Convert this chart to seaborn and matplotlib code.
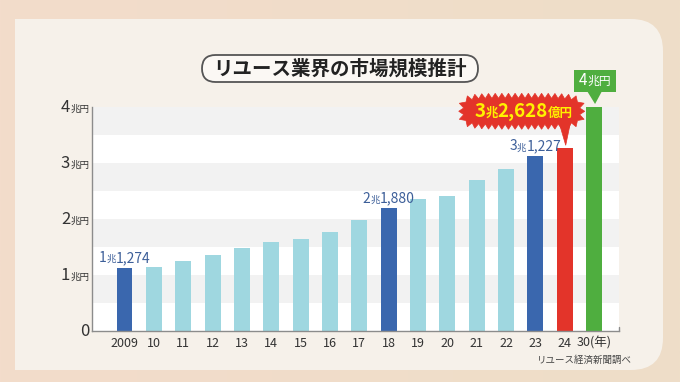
import numpy as np
import pandas as pd
import seaborn as sns
import matplotlib.pyplot as plt
from matplotlib.patches import FancyBboxPatch, Rectangle, Polygon
from matplotlib.offsetbox import TextArea, HPacker, AnnotationBbox
from matplotlib.colors import LinearSegmentedColormap

# ---------------- data ----------------
years = ["2009", "10", "11", "12", "13", "14", "15", "16", "17", "18",
         "19", "20", "21", "22", "23", "24", "30(年)"]
values = [1.1274, 1.14, 1.255, 1.357, 1.49, 1.595, 1.65, 1.77, 1.99, 2.188,
          2.357, 2.41, 2.70, 2.89, 3.1227, 3.2628, 4.0]
bar_colors = ["#3A67AE", "#9FD7E0", "#9FD7E0", "#9FD7E0", "#9FD7E0", "#9FD7E0",
              "#9FD7E0", "#9FD7E0", "#9FD7E0", "#3A67AE", "#9FD7E0", "#9FD7E0",
              "#9FD7E0", "#9FD7E0", "#3A67AE", "#E3342A", "#4FAE3F"]
value_labels = {0: ("1", "1,274"), 9: ("2", "1,880"), 14: ("3", "1,227")}
callout_24 = ("3", "2,628")
callout_30 = "4"
y_ticks = [0, 1, 2, 3, 4]
title = "リユース業界の市場規模推計"
source = "リユース経済新聞調べ"

W, H = 680, 382
FONT = ["Noto Sans CJK JP", "DejaVu Sans"]

sns.set_style("white")
plt.rcParams["font.family"] = FONT

fig = plt.figure(figsize=(W / 100, H / 100), dpi=100)

# ---------------- background ----------------
bg = fig.add_axes([0, 0, 1, 1], zorder=0)
grad = np.linspace(0, 1, 256).reshape(1, -1)
cmap = LinearSegmentedColormap.from_list("g", ["#F3DCCB", "#EEDEC8"])
bg.imshow(grad, extent=(0, W, 0, H), aspect="auto", cmap=cmap)
panel = "#F6F1EA"
bg.add_patch(FancyBboxPatch((15, 12), 648, 351,
                            boxstyle="round,pad=0,rounding_size=32",
                            fc=panel, ec="none"))
bg.add_patch(Rectangle((15, 12), 60, 351, fc=panel, ec="none"))
bg.set_xlim(0, W)
bg.set_ylim(0, H)
bg.axis("off")

# ---------------- main chart ----------------
ax = fig.add_axes([92 / W, 51 / H, 527 / W, 224 / H], zorder=1)
df = pd.DataFrame({"year": years, "value": values})
sns.barplot(data=df, x="year", y="value", hue="year", order=years,
            hue_order=years, palette=dict(zip(years, bar_colors)),
            width=0.54, saturation=1, legend=False, ax=ax, zorder=2,
            edgecolor="none", linewidth=0)
ax.set_xlim(-1.11, 16.85)
ax.set_ylim(0, 4)
ax.set_facecolor("white")
for lo in [0.5, 1.5, 2.5, 3.5]:
    ax.axhspan(lo, lo + 0.5, color="#F2F2F2", lw=0, zorder=0)
for s in ["top", "right"]:
    ax.spines[s].set_visible(False)
for s in ["left", "bottom"]:
    ax.spines[s].set_color("#8C8C8C")
    ax.spines[s].set_linewidth(1)
ax.set_yticks(y_ticks)
ax.set_yticklabels([])
ax.tick_params(axis="y", direction="in", length=4, color="#999999", width=0.8)
ax.tick_params(axis="x", length=0, pad=4, labelsize=9, labelcolor="#333333")
ax.set_xlabel("")
ax.set_ylabel("")
ax.plot([1, 1], [0, 0.02], transform=ax.transAxes, color="#8C8C8C", lw=1,
        clip_on=False)


def mixed(target, parts, xy, xycoords, box_alignment, xybox=(0, 0)):
    children = []
    for s, fs, col, wt in parts:
        children.append(TextArea(s, textprops=dict(fontsize=fs, color=col,
                                                   fontweight=wt, family=FONT)))
    pack = HPacker(children=children, align="baseline", pad=0, sep=0)
    ab = AnnotationBbox(pack, xy, xycoords=xycoords, xybox=xybox,
                        boxcoords="offset points", frameon=False,
                        box_alignment=box_alignment, pad=0,
                        annotation_clip=False)
    target.add_artist(ab)


# y tick labels
for v in y_ticks:
    parts = [(str(v), 12, "#333333", "normal")]
    if v > 0:
        parts.append(("兆円", 6.8, "#333333", "normal"))
    mixed(ax, parts, (0, v), ax.get_yaxis_transform(), (1, 0.5), xybox=(-2, 0))

# value labels
for i, (a, b) in value_labels.items():
    mixed(ax, [(a, 10, "#3D5F99", "normal"), ("兆", 6.8, "#3D5F99", "normal"),
               (b, 10, "#3D5F99", "normal")],
          (i, values[i]), "data", (0.5, 0), xybox=(0, 2))

# ---------------- overlay ----------------
ov = fig.add_axes([0, 0, 1, 1], zorder=3)
ov.set_xlim(0, W)
ov.set_ylim(0, H)
ov.axis("off")
ov.patch.set_alpha(0)

# title pill
ov.add_patch(FancyBboxPatch((202, 300), 276, 27,
                            boxstyle="round,pad=0,rounding_size=13.5",
                            fc="#FBF8F4", ec="#555555", lw=1.3))
ov.text(340, 313.5, title, ha="center", va="center", fontsize=14,
        fontweight="bold", color="#222222")

# source
ov.text(632, 22, source, ha="right", va="center", fontsize=6.8, color="#444444")


def burst_points(cx, cy, a, b, n_spikes, amp, p=5):
    t = np.linspace(0, 2 * np.pi, 4000)
    c, s = np.cos(t), np.sin(t)
    x = a * np.sign(c) * np.abs(c) ** (2 / p)
    y = b * np.sign(s) * np.abs(s) ** (2 / p)
    seg = np.hypot(np.diff(x), np.diff(y))
    L = np.concatenate([[0], np.cumsum(seg)])
    m = 2 * n_spikes
    tt = np.linspace(0, L[-1], m, endpoint=False)
    xs = np.interp(tt, L, x)
    ys = np.interp(tt, L, y)
    dx = np.interp(tt + 0.5, L, x) - np.interp(tt - 0.5, L, x)
    dy = np.interp(tt + 0.5, L, y) - np.interp(tt - 0.5, L, y)
    nrm = np.hypot(dx, dy) + 1e-9
    nx, ny = dy / nrm, -dx / nrm
    off = np.where(np.arange(m) % 2 == 0, amp, 0.0)
    return np.column_stack([cx + xs + nx * off, cy + ys + ny * off])


# red callout for 24
x24, y24 = ax.transData.transform((15, values[15]))
cx, cy = x24 - 43, y24 + 37
red = "#E3342A"
ov.add_patch(Polygon(burst_points(cx, cy, 58, 13, 40, 5), closed=True,
                     fc=red, ec=red, lw=0.5))
ov.add_patch(Polygon([(x24 - 6, cy - 10), (x24 + 6, cy - 10), (x24 + 1, y24 + 3)],
                     closed=True, fc=red, ec=red, lw=0.5))
mixed(ov, [(callout_24[0], 13.5, "#FFF100", "bold"), ("兆", 9, "#FFF100", "bold"),
           (callout_24[1], 13.5, "#FFF100", "bold"), ("億円", 9, "#FFF100", "bold")],
      (cx + 2, cy), "data", (0.5, 0.5))

# green callout for 30
x30, y30 = ax.transData.transform((16, values[16]))
green = "#4FAE3F"
bx0, by0 = x30 - 20, y30 + 15.5
ov.add_patch(Rectangle((bx0, by0), 42, 22, fc=green, ec="none"))
ov.add_patch(Polygon([(x30 - 7, by0 + 0.5), (x30 + 8, by0 + 0.5), (x30 + 1, y30 + 3)],
                     closed=True, fc=green, ec="none"))
mixed(ov, [(callout_30, 11, "white", "normal"), ("兆円", 8.5, "white", "normal")],
      (bx0 + 21, by0 + 11), "data", (0.5, 0.5))

fig.savefig("out.png", dpi=100)
